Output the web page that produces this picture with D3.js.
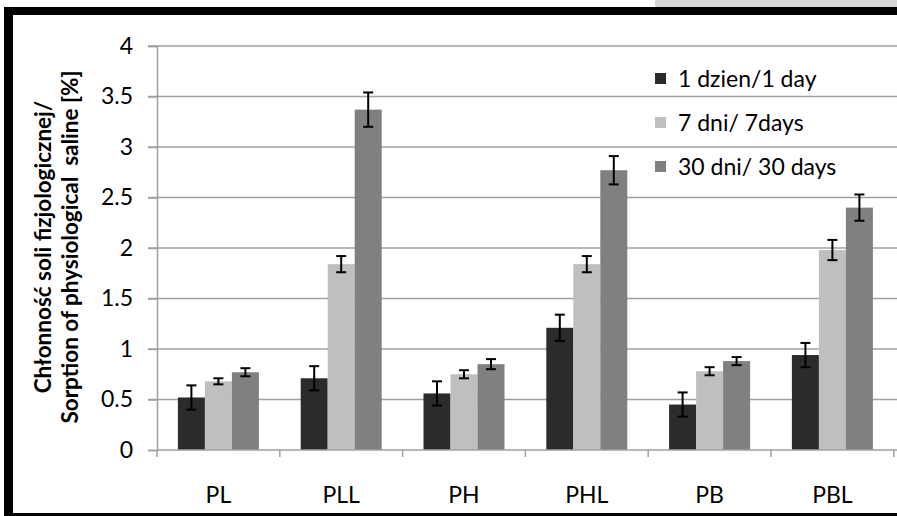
<!DOCTYPE html>
<html><head><meta charset="utf-8">
<script src="https://cdn.jsdelivr.net/npm/d3@7"></script>
<style>html,body{margin:0;padding:0;background:#fff;overflow:hidden;}svg{display:block;}</style>
</head><body>
<svg id="c" width="897" height="516"></svg>
<script>
const categories = ["PL","PLL","PH","PHL","PB","PBL"];
const seriesNames = ["1 dzien/1 day","7 dni/ 7days","30 dni/ 30 days"];
const day1   = [0.52, 0.71, 0.56, 1.21, 0.45, 0.94];
const day7   = [0.68, 1.84, 0.75, 1.84, 0.78, 1.98];
const day30  = [0.77, 3.37, 0.85, 2.77, 0.88, 2.40];
const err1   = [0.12, 0.12, 0.12, 0.13, 0.12, 0.12];
const err7   = [0.03, 0.08, 0.04, 0.08, 0.04, 0.10];
const err30  = [0.04, 0.17, 0.05, 0.14, 0.04, 0.13];
const yTicks = [0,0.5,1,1.5,2,2.5,3,3.5,4];
const colors = ["#2b2b2b","#bfbfbf","#808080"];

const values = [day1, day7, day30];
const errs = [err1, err7, err30];

const svg = d3.select("#c");
const font = "Lato, Carlito, Calibri, sans-serif";

// frame decorations
svg.append("rect").attr("x",655).attr("y",0).attr("width",242).attr("height",7).attr("fill","#d6d6d6");
svg.append("rect").attr("x",4).attr("y",7).attr("width",893).attr("height",8).attr("fill","#000");
svg.append("rect").attr("x",4).attr("y",7).attr("width",9).attr("height",509).attr("fill","#000");
svg.append("rect").attr("x",4).attr("y",513).attr("width",893).attr("height",3).attr("fill","#000");

const x0 = 157, step = 122.8;
const x = d3.scaleBand().domain(categories).range([x0, x0 + step*categories.length]).padding(0);
const y = d3.scaleLinear().domain([0,4]).range([450,46]);
const groupW = 81;
const xs = d3.scaleBand().domain(d3.range(3)).range([0, groupW]).padding(0);

// gridlines
const g = svg.append("g");
g.selectAll("line.grid").data(yTicks.filter(d=>d>0)).join("line")
  .attr("x1",148).attr("x2",897).attr("y1",d=>y(d)).attr("y2",d=>y(d))
  .attr("stroke","#a0a0a0").attr("stroke-width",1.5);

// y axis
const yAxis = d3.axisLeft(y).tickValues(yTicks).tickSize(9).tickPadding(15).tickFormat(d3.format("~g"));
const ya = svg.append("g").attr("transform",`translate(${x0},0)`).call(yAxis);
ya.select(".domain").attr("stroke","#a0a0a0").attr("stroke-width",1.5);
ya.selectAll(".tick line").attr("stroke","#a0a0a0").attr("stroke-width",1.5);
ya.selectAll("text").attr("font-family",font).attr("font-size",23).attr("fill","#000");

// bars
const groups = svg.append("g").selectAll("g").data(categories).join("g")
  .attr("transform",d=>`translate(${x(d)+(step-groupW)/2},0)`);
groups.each(function(c, i){
  const gg = d3.select(this);
  const data = d3.range(3).map(s=>({s, v: values[s][i], e: errs[s][i]}));
  gg.selectAll("rect").data(data).join("rect")
    .attr("x",d=>xs(d.s)).attr("width",xs.bandwidth())
    .attr("y",d=>y(d.v)).attr("height",d=>y(0)-y(d.v))
    .attr("fill",d=>colors[d.s]);
  const eb = gg.selectAll("g.eb").data(data).join("g").attr("class","eb")
    .attr("transform",d=>`translate(${xs(d.s)+xs.bandwidth()/2},0)`);
  eb.append("line").attr("y1",d=>y(d.v+d.e)).attr("y2",d=>y(d.v-d.e)).attr("stroke","#000").attr("stroke-width",2);
  eb.append("line").attr("x1",-5).attr("x2",5).attr("y1",d=>y(d.v+d.e)).attr("y2",d=>y(d.v+d.e)).attr("stroke","#000").attr("stroke-width",2);
  eb.append("line").attr("x1",-5).attr("x2",5).attr("y1",d=>y(d.v-d.e)).attr("y2",d=>y(d.v-d.e)).attr("stroke","#000").attr("stroke-width",2);
});

// x axis
const xa = svg.append("g").attr("transform","translate(0,450)");
xa.append("line").attr("x1",x0).attr("x2",897).attr("stroke","#a0a0a0").attr("stroke-width",1.5);
xa.selectAll("line.t").data(d3.range(categories.length+1)).join("line")
  .attr("x1",d=>x0+d*step).attr("x2",d=>x0+d*step).attr("y1",0).attr("y2",7)
  .attr("stroke","#a0a0a0").attr("stroke-width",1.5);
xa.selectAll("text").data(categories).join("text")
  .attr("x",d=>x(d)+step/2).attr("y",53).attr("text-anchor","middle")
  .attr("font-family",font).attr("font-size",23).text(d=>d);

// y title
const yt = svg.append("text").attr("transform","translate(0,247) rotate(-90)")
  .attr("text-anchor","middle").attr("font-family",font).attr("font-weight","bold").attr("font-size",22.5);
yt.append("tspan").attr("x",0).attr("y",51).text("Chłonność soli fizjologicznej/");
yt.append("tspan").attr("x",0).attr("y",78).style("white-space","pre").text("Sorption of physiological  saline [%]");

// legend
const lg = svg.append("g").selectAll("g").data(seriesNames).join("g")
  .attr("transform",(d,i)=>`translate(655,${78.5+i*44})`);
lg.append("rect").attr("x",0).attr("y",-5.5).attr("width",11).attr("height",11).attr("fill",(d,i)=>colors[i]);
lg.append("text").attr("x",23).attr("y",8).attr("font-family",font).attr("font-size",23).text(d=>d);
</script>
</body></html>
